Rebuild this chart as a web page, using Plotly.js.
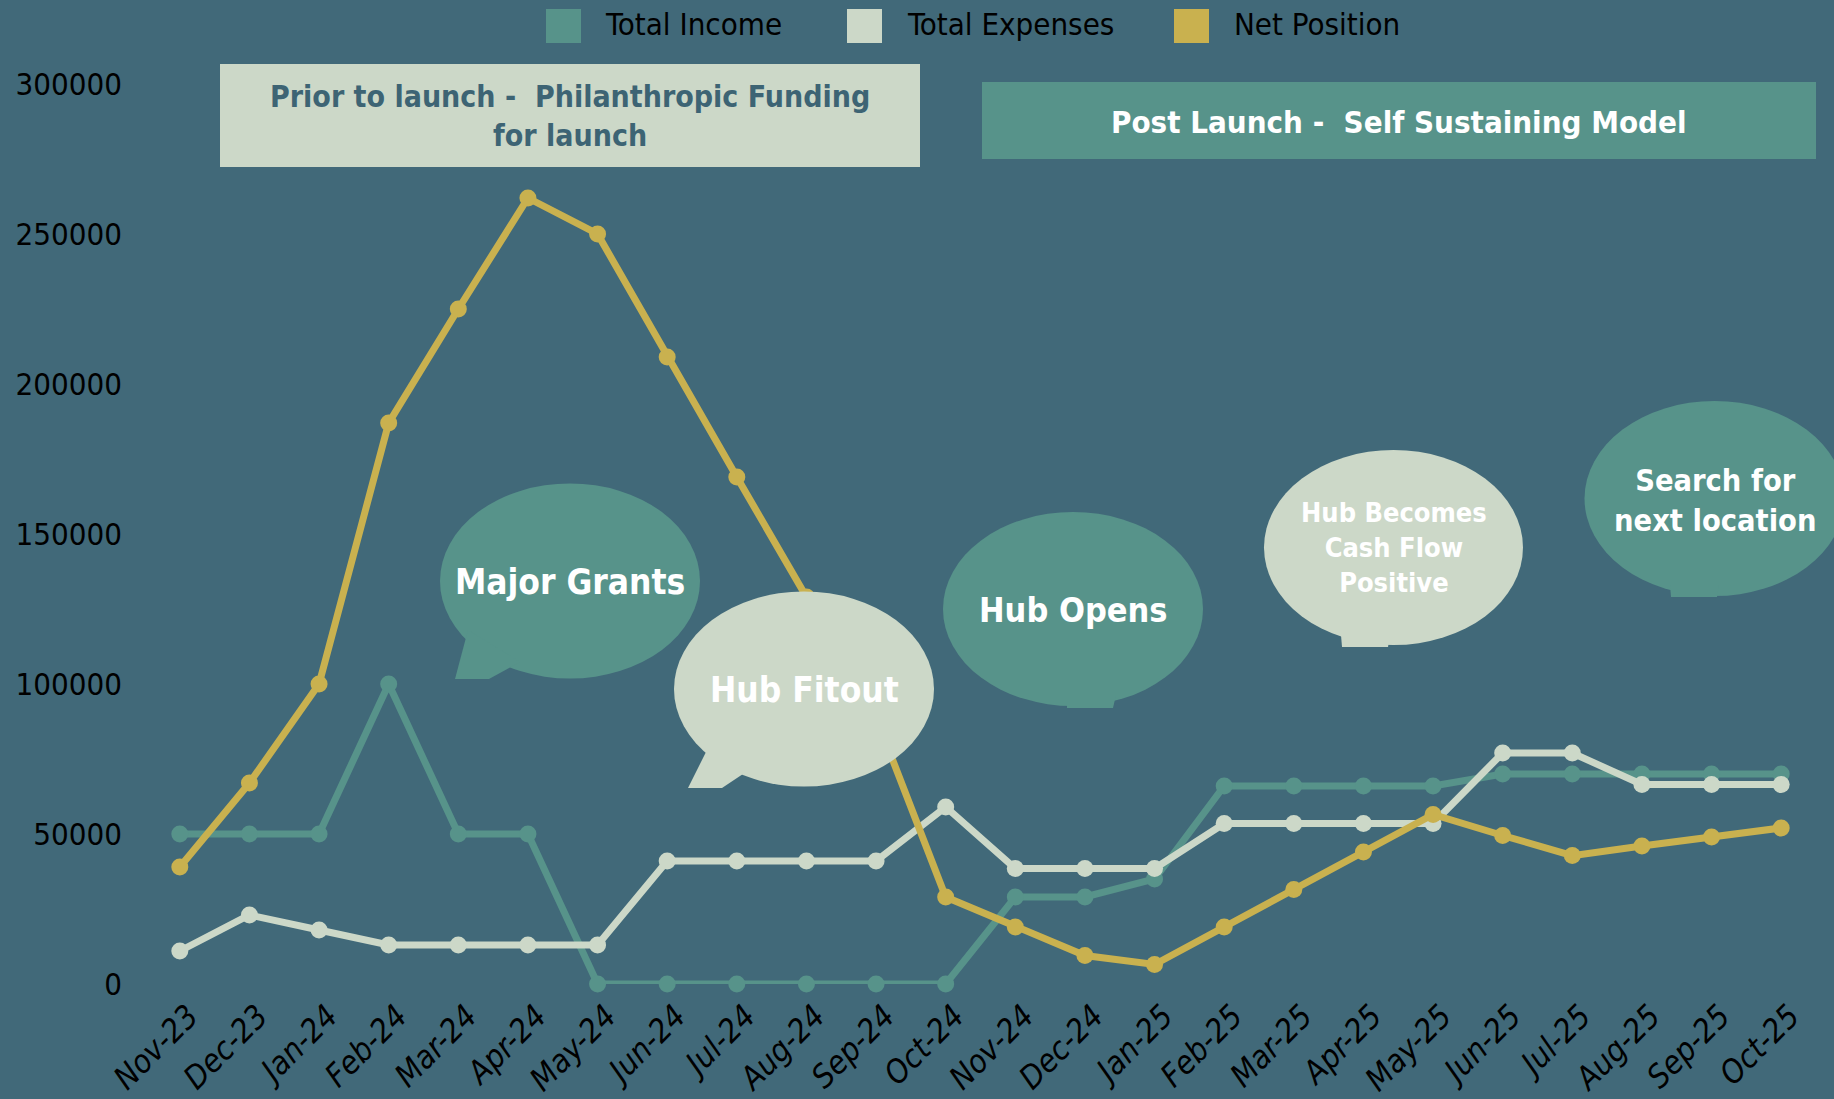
<!DOCTYPE html>
<html>
<head>
<meta charset="utf-8">
<script src="https://cdn.plot.ly/plotly-3.0.1.min.js"></script>
<style>
  html, body { margin: 0; padding: 0; background: #416979; }
  #chart { width: 1834px; height: 1099px; }
</style>
</head>
<body>
<div id="chart"></div>
<script>
// ---- data ----
const months = ['Nov-23','Dec-23','Jan-24','Feb-24','Mar-24','Apr-24','May-24','Jun-24','Jul-24','Aug-24','Sep-24','Oct-24',
                'Nov-24','Dec-24','Jan-25','Feb-25','Mar-25','Apr-25','May-25','Jun-25','Jul-25','Aug-25','Sep-25','Oct-25'];
const totalIncome   = [50000,50000,50000,100000,50000,50000,0,0,0,0,0,0,29000,29000,35000,66000,66000,66000,66000,70000,70000,70000,70000,70000];
const totalExpenses = [11000,23000,18000,13000,13000,13000,13000,41000,41000,41000,41000,59000,38500,38500,38500,53500,53500,53500,53500,77000,77000,66500,66500,66500];
const netPosition   = [39000,67000,100000,187000,225000,262000,250000,209000,169000,129000,89000,29000,19000,9500,6500,19000,31500,44000,56500,49500,42800,46000,49000,52000];
const seriesNames = ['Total Income','Total Expenses','Net Position'];
const yTicks = [0,50000,100000,150000,200000,250000,300000];

// ---- style ----
const BG = '#416979', TEAL = '#57938A', SAGE = '#CCD8C8', GOLD = '#C9B14F';
const FONT = '"Comic Sans MS", "DejaVu Sans Condensed", sans-serif';
const W = 1834, H = 1099, ML = 145, MR = 18, MT = 84, MB = 115;
const PW = W - ML - MR, PH = H - MT - MB;
const px = X => (X - ML) / PW;
const py = Y => (H - MB - Y) / PH;

function line(y, color, name) {
  return { x: months, y: y, name: name, type: 'scatter', mode: 'lines+markers',
    line: { color: color, width: 7 }, marker: { color: color, size: 17 }, showlegend: false,
    cliponaxis: false };
}
const traces = [
  line(totalIncome, TEAL, seriesNames[0]),
  line(totalExpenses, SAGE, seriesNames[1]),
  line(netPosition, GOLD, seriesNames[2])
];

const shapes = [], annotations = [];
function rectPx(x0, y0, x1, y1, color) {
  shapes.push({ type: 'rect', xref: 'paper', yref: 'paper', layer: 'above',
    x0: px(x0), x1: px(x1), y0: py(y1), y1: py(y0), fillcolor: color, line: { width: 0 } });
}
function textPx(x, y, text, size, color, opts) {
  annotations.push(Object.assign({ xref: 'paper', yref: 'paper', x: px(x), y: py(y), text: text,
    showarrow: false, xanchor: 'center', yanchor: 'middle',
    font: { family: FONT, size: size, color: color } }, opts || {}));
}
function bubble(cx, cy, rx, ry, tail, color) {
  shapes.push({ type: 'circle', xref: 'paper', yref: 'paper', layer: 'above',
    x0: px(cx - rx), x1: px(cx + rx), y0: py(cy + ry), y1: py(cy - ry), fillcolor: color, line: { width: 0 } });
  const d = tail.map((p, i) => (i ? 'L' : 'M') + px(p[0]).toFixed(5) + ',' + py(p[1]).toFixed(5)).join(' ') + ' Z';
  shapes.push({ type: 'path', xref: 'paper', yref: 'paper', layer: 'above', path: d, fillcolor: color, line: { width: 0 } });
}

// legend (manual, square swatches)
const legendColors = [TEAL, SAGE, GOLD];
const legendSw = [546, 847, 1174];
const legendTx = [603, 905, 1232];
for (let i = 0; i < 3; i++) {
  rectPx(legendSw[i], 9, legendSw[i] + 35, 43, legendColors[i]);
  textPx(legendTx[i], 24, seriesNames[i], 31, '#000000', { xanchor: 'left' });
}

// phase boxes
rectPx(220, 64, 920, 167, SAGE);
textPx(570, 116, '<b>Prior to launch -\u00A0 Philanthropic Funding<br>for launch</b>', 30, '#3D6474');
rectPx(982, 82, 1816, 159, TEAL);
textPx(1399, 122, '<b>Post Launch -\u00A0 Self Sustaining Model</b>', 31, '#FFFFFF');

// speech bubbles
bubble(570, 581, 130, 97.5, [[468, 630], [455, 679], [489, 679], [520, 662]], TEAL);
textPx(570, 582, '<b>Major Grants</b>', 35, '#FFFFFF');
bubble(804, 689, 130, 97.5, [[712, 740], [688, 788], [722, 788], [752, 768]], SAGE);
textPx(804, 690, '<b>Hub Fitout</b>', 35, '#FFFFFF');
bubble(1073, 609, 130, 97, [[1067, 695], [1067, 708], [1113, 708], [1116, 695]], TEAL);
textPx(1073, 610, '<b>Hub Opens</b>', 34, '#FFFFFF');
bubble(1393.5, 547.5, 129.5, 97.5, [[1341, 635], [1342, 647], [1388, 647], [1390, 635]], SAGE);
textPx(1393.5, 547, '<b>Hub Becomes<br>Cash Flow<br>Positive</b>', 27, '#FFFFFF');
bubble(1714.5, 498.5, 130, 97.5, [[1670, 585], [1671, 597], [1717, 597], [1719, 585]], TEAL);
textPx(1714.5, 500, '<b>Search for<br>next location</b>', 30.5, '#FFFFFF');

const layout = {
  width: W, height: H,
  paper_bgcolor: BG, plot_bgcolor: BG,
  margin: { l: ML, r: MR, t: MT, b: MB, pad: 0 },
  showlegend: false,
  font: { family: FONT, color: '#000000' },
  xaxis: { type: 'category', range: [-0.5, 23.5], showgrid: false, zeroline: false, showline: false,
    tickangle: -45, ticks: '', ticklabelstandoff: 6, ticklabelshift: 9,
    tickfont: { family: FONT, size: 32, color: '#000000', style: 'italic' } },
  yaxis: { range: [0, 300000], tickvals: yTicks, ticktext: yTicks.map(String), showgrid: false, zeroline: false,
    showline: false, ticks: '', ticklabelstandoff: 22, tickfont: { family: FONT, size: 31, color: '#000000' } },
  shapes: shapes,
  annotations: annotations
};
Plotly.newPlot('chart', traces, layout, { displayModeBar: false, staticPlot: true });
</script>
</body>
</html>
